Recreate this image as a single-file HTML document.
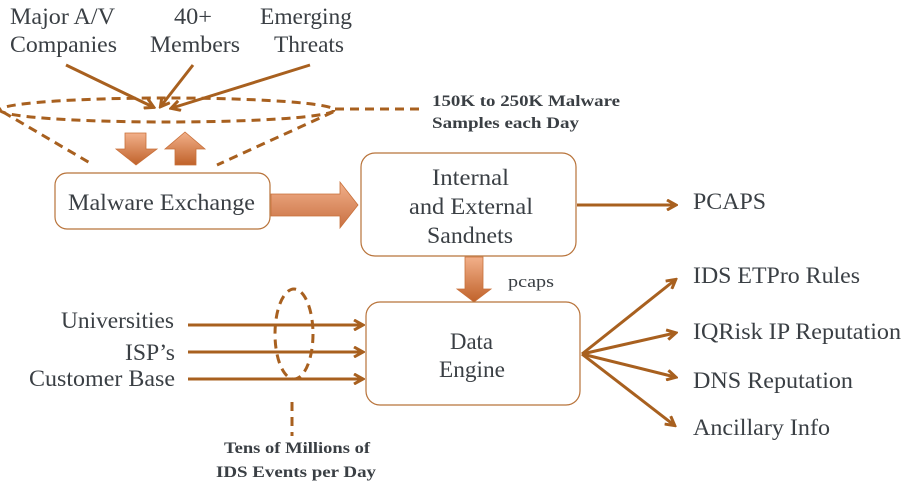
<!DOCTYPE html>
<html><head><meta charset="utf-8"><style>
html,body{margin:0;padding:0;background:#fff;}
svg{display:block;}
text{font-family:"Liberation Serif",serif;fill:#3a3f44;}
.b{font-weight:bold;font-size:16px;}
</style></head><body>
<svg width="911" height="487" viewBox="0 0 911 487" xmlns="http://www.w3.org/2000/svg">
<defs>
<marker id="ah" markerWidth="12" markerHeight="12" refX="9" refY="6" orient="auto" markerUnits="userSpaceOnUse">
<path d="M1,1 L10,6 L1,11" fill="none" stroke="#a8601f" stroke-width="3"/>
</marker>
<linearGradient id="gv" x1="0" y1="0" x2="0" y2="1"><stop offset="0" stop-color="#f2b08a"/><stop offset="1" stop-color="#c0622a"/></linearGradient>
<linearGradient id="gu" x1="0" y1="1" x2="0" y2="0"><stop offset="0" stop-color="#c0622a"/><stop offset="1" stop-color="#f2b08a"/></linearGradient>
<linearGradient id="gh" x1="0" y1="0" x2="0" y2="1"><stop offset="0" stop-color="#f2b08a"/><stop offset="1" stop-color="#c87042"/></linearGradient>
</defs>
<g font-size="23" lengthAdjust="spacingAndGlyphs">
<text x="10" y="24" textLength="105" lengthAdjust="spacingAndGlyphs">Major A/V</text>
<text x="10" y="52" textLength="107" lengthAdjust="spacingAndGlyphs">Companies</text>
<text x="174" y="24" textLength="38" lengthAdjust="spacingAndGlyphs">40+</text>
<text x="150" y="52" textLength="90" lengthAdjust="spacingAndGlyphs">Members</text>
<text x="260" y="24" textLength="92" lengthAdjust="spacingAndGlyphs">Emerging</text>
<text x="274" y="52" textLength="70" lengthAdjust="spacingAndGlyphs">Threats</text>
</g>
<g stroke="#a8601f" stroke-width="3" fill="none" marker-end="url(#ah)">
<line x1="66" y1="65" x2="153" y2="107"/>
<line x1="193" y1="65" x2="161" y2="106"/>
<line x1="310" y1="65" x2="172" y2="108"/>
</g>
<g stroke="#a8601f" stroke-width="3" fill="none" stroke-dasharray="9,6">
<ellipse cx="167" cy="110" rx="167" ry="12"/>
<line x1="335" y1="109" x2="420" y2="109"/>
<line x1="3" y1="112" x2="90" y2="163"/>
<line x1="333" y1="112" x2="217" y2="165"/>
<ellipse cx="294" cy="334" rx="19" ry="45"/>
<line x1="292" y1="402" x2="292" y2="436"/>
</g>
<text class="b" x="432" y="106" textLength="188" lengthAdjust="spacingAndGlyphs">150K to 250K Malware</text>
<text class="b" x="432" y="128" textLength="147" lengthAdjust="spacingAndGlyphs">Samples each Day</text>
<path d="M125,133 H146 V149 H157 L136,165 L116,149 H125 Z" fill="url(#gv)" stroke="#c8703a" stroke-width="0.8"/>
<path d="M175,165 H196 V149 H205 L185,132 L165,149 H175 Z" fill="url(#gu)" stroke="#c8703a" stroke-width="0.8"/>
<rect x="55" y="173" width="215" height="56" rx="12" fill="#fff" stroke="#b8733a" stroke-width="1.2"/>
<text x="68" y="210" font-size="23" textLength="187" lengthAdjust="spacingAndGlyphs">Malware Exchange</text>
<path d="M271,194 H340 V182 L358,205 L340,228 V216 H271 Z" fill="url(#gh)" stroke="#c8703a" stroke-width="0.8"/>
<rect x="361" y="153" width="215" height="103" rx="14" fill="#fff" stroke="#b8733a" stroke-width="1.2"/>
<g font-size="23">
<text x="432" y="185" textLength="77" lengthAdjust="spacingAndGlyphs">Internal</text>
<text x="409" y="214" textLength="124" lengthAdjust="spacingAndGlyphs">and External</text>
<text x="427" y="243" textLength="86" lengthAdjust="spacingAndGlyphs">Sandnets</text>
</g>
<line x1="577" y1="205" x2="675" y2="205" stroke="#a8601f" stroke-width="3" marker-end="url(#ah)"/>
<text x="693" y="209" font-size="23" textLength="73" lengthAdjust="spacingAndGlyphs">PCAPS</text>
<path d="M465,257 H483 V289 H491 L474,302 L457,289 H465 Z" fill="url(#gv)" stroke="#c8703a" stroke-width="0.8"/>
<text x="508" y="287" font-size="17" textLength="46" lengthAdjust="spacingAndGlyphs">pcaps</text>
<rect x="366" y="302" width="214" height="103" rx="14" fill="#fff" stroke="#b8733a" stroke-width="1.2"/>
<g font-size="23">
<text x="450" y="349" textLength="43" lengthAdjust="spacingAndGlyphs">Data</text>
<text x="439" y="377" textLength="66" lengthAdjust="spacingAndGlyphs">Engine</text>
</g>
<g font-size="23">
<text x="61" y="328" textLength="113" lengthAdjust="spacingAndGlyphs">Universities</text>
<text x="125" y="360" textLength="50" lengthAdjust="spacingAndGlyphs">ISP’s</text>
<text x="29" y="386" textLength="146" lengthAdjust="spacingAndGlyphs">Customer Base</text>
</g>
<g stroke="#a8601f" stroke-width="3" fill="none" marker-end="url(#ah)">
<line x1="188" y1="325" x2="362" y2="325"/>
<line x1="188" y1="352" x2="362" y2="352"/>
<line x1="188" y1="379" x2="362" y2="379"/>
<line x1="582" y1="354" x2="675" y2="280"/>
<line x1="582" y1="354" x2="675" y2="333"/>
<line x1="582" y1="354" x2="675" y2="377"/>
<line x1="582" y1="354" x2="674" y2="425"/>
</g>
<g font-size="23">
<text x="693" y="283" textLength="167" lengthAdjust="spacingAndGlyphs">IDS ETPro Rules</text>
<text x="693" y="339" textLength="208" lengthAdjust="spacingAndGlyphs">IQRisk IP Reputation</text>
<text x="693" y="388" textLength="160" lengthAdjust="spacingAndGlyphs">DNS Reputation</text>
<text x="693" y="435" textLength="137" lengthAdjust="spacingAndGlyphs">Ancillary Info</text>
</g>
<text class="b" x="224" y="453" textLength="146" lengthAdjust="spacingAndGlyphs">Tens of Millions of</text>
<text class="b" x="216" y="477" textLength="160" lengthAdjust="spacingAndGlyphs">IDS Events per Day</text>
</svg>
</body></html>
